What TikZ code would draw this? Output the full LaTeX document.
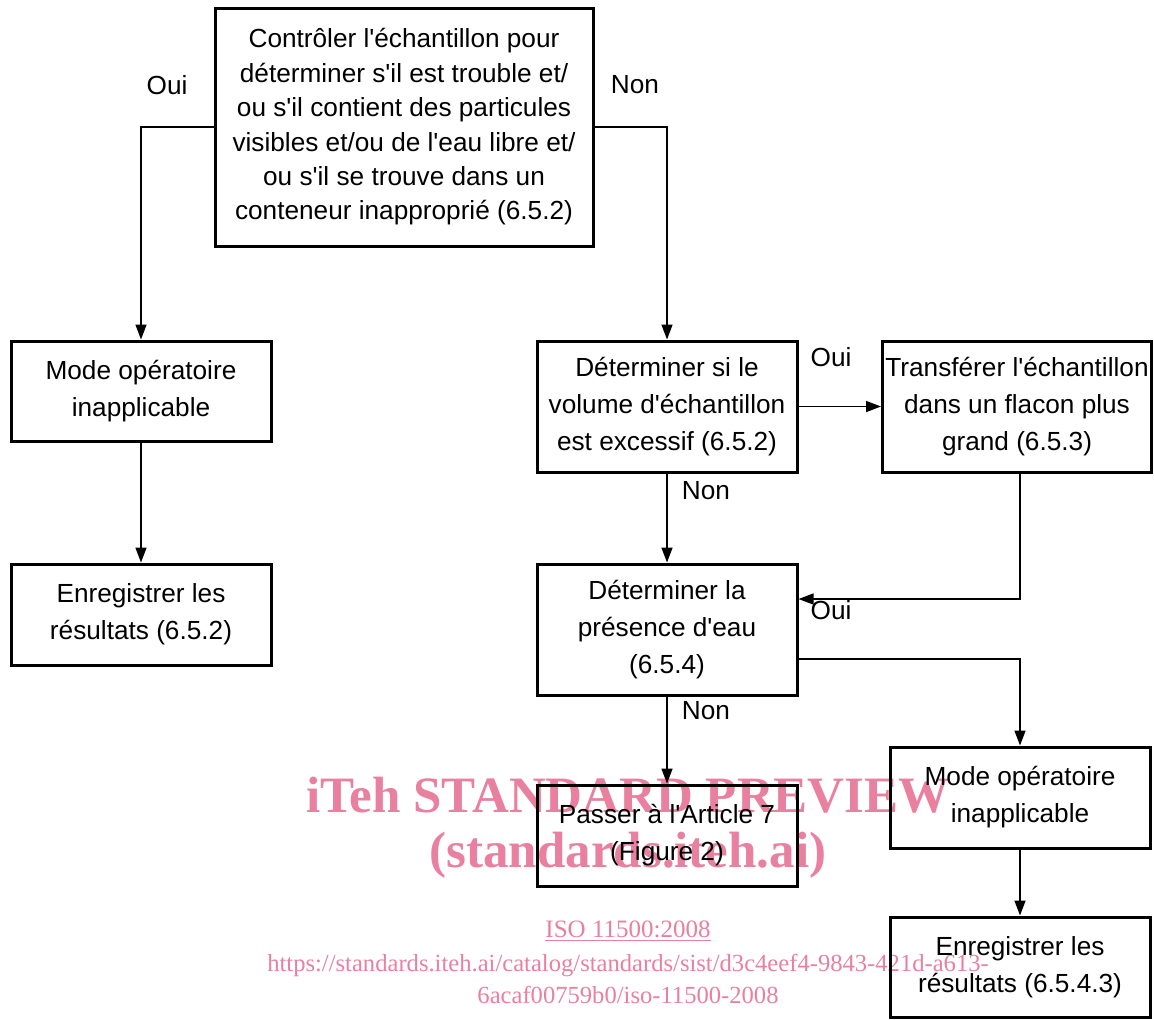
\documentclass[tikz,border=0pt]{standalone}
\usepackage{fontspec}
\setmainfont{Liberation Sans}[Ligatures=TeXOff]
\newfontfamily\wmfont{Liberation Serif}
\usetikzlibrary{arrows.meta}
\definecolor{wmpink}{RGB}{233,128,160}
\tikzset{
  box/.style={draw, line width=1.5pt, align=center, inner sep=0pt,
    font=\fontsize{13.1}{18.5}\selectfont},
  arr/.style={line width=0.75pt, -{Triangle[length=7.5pt,width=5.5pt]}},
  lbl/.style={font=\fontsize{13.1}{15}\selectfont, inner sep=0pt},
  wm/.style={text=wmpink, inner sep=0pt},
}
\begin{document}
\begin{tikzpicture}[x=0.5pt,y=-0.5pt]
\useasboundingbox (0,0) rectangle (1154,1019);
% watermark
\node[wm, font=\wmfont\bfseries\fontsize{25.5}{30}\selectfont] (wm1) at (628,795) {iTeh STANDARD PREVIEW};
\node[wm, font=\wmfont\bfseries\fontsize{25.5}{30}\selectfont] (wm2) at (628,855) {(standards.iteh.ai)};
\node[wm, font=\wmfont\fontsize{12.5}{15}\selectfont] (wm3) at (628,931) {\underline{ISO 11500:2008}};
\node[wm, font=\wmfont\fontsize{12.3}{15}\selectfont] (wm4) at (628,965) {https://standards.iteh.ai/catalog/standards/sist/d3c4eef4-9843-421d-a613-};
\node[wm, font=\wmfont\fontsize{12.3}{15}\selectfont] (wm5) at (628,995) {6acaf00759b0/iso-11500-2008};
% boxes
\node[box, minimum width=189pt, minimum height=119pt, font=\fontsize{13.1}{17.2}\selectfont] (top) at (404,127)
  {Contrôler l'échantillon pour\\déterminer s'il est trouble et/\\ou s'il contient des particules\\visibles et/ou de l'eau libre et/\\ou s'il se trouve dans un\\conteneur inapproprié (6.5.2)};
\node[box, minimum width=130pt, minimum height=50pt] (modeL) at (141,391) {Mode opératoire\\inapplicable};
\node[box, minimum width=130pt, minimum height=50.5pt] (enrL) at (141,614.5) {Enregistrer les\\résultats (6.5.2)};
\node[box, minimum width=130pt, minimum height=65.5pt] (vol) at (667,406.5) {Déterminer si le\\volume d'échantillon\\est excessif (6.5.2)};
\node[box, minimum width=134.5pt, minimum height=65.5pt] (trans) at (1017,406.5) {Transférer l'échantillon\\dans un flacon plus\\grand (6.5.3)};
\node[box, minimum width=130pt, minimum height=65.5pt] (pres) at (667,629.5) {Déterminer la\\présence d'eau\\(6.5.4)};
\node[box, minimum width=130pt, minimum height=50.5pt] (pass) at (667,835.5) {Passer à l'Article 7\\(Figure 2)};
\node[box, minimum width=130pt, minimum height=50.5pt] (modeR) at (1020,797.5) {Mode opératoire\\inapplicable};
\node[box, minimum width=130pt, minimum height=50pt] (enrR) at (1020,967) {Enregistrer les\\résultats (6.5.4.3)};
% connectors
\draw[arr] (top.west) -| (modeL.north);
\draw[arr] (top.east) -| (vol.north);
\draw[arr] (modeL.south) -- (enrL.north);
\draw[arr] (vol.south) -- (pres.north);
\draw[arr] (vol.east) -- (trans.west);
\draw[arr] ([xshift=1.5pt]trans.south) |- ([yshift=15.25pt]pres.east);
\draw[arr] ([yshift=-14.75pt]pres.east) -| (modeR.north);
\draw[arr] (pres.south) -- (pass.north);
\draw[arr] (modeR.south) -- (enrR.north);
% labels
\node[lbl] (l1) at (167,85) {Oui};
\node[lbl] (l2) at (635,85) {Non};
\node[lbl] (l3) at (831,357) {Oui};
\node[lbl] (l4) at (706,491) {Non};
\node[lbl] (l5) at (831,610) {Oui};
\node[lbl] (l6) at (706,711) {Non};
\end{tikzpicture}
\end{document}
